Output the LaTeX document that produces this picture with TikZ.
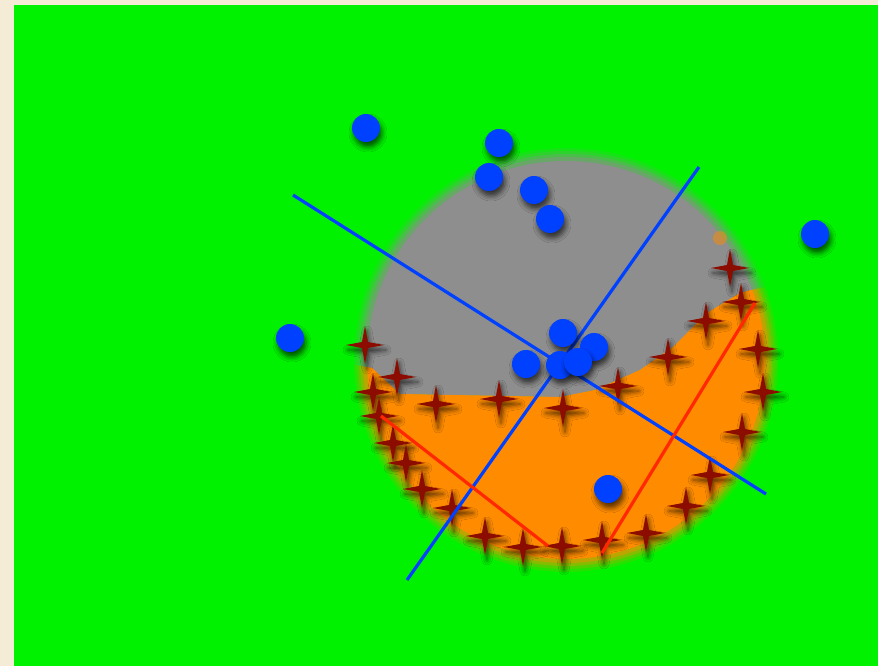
\documentclass[tikz,border=0pt]{standalone}
\usetikzlibrary{shadows.blur}
\definecolor{bg}{RGB}{245,236,215}
\definecolor{grn}{RGB}{0,242,0}
\definecolor{gry}{RGB}{142,142,142}
\definecolor{org}{RGB}{255,140,0}
\definecolor{blu}{RGB}{0,64,255}
\definecolor{redl}{RGB}{255,40,0}
\definecolor{strc}{RGB}{140,12,0}
\tikzset{
  softshadow/.style={blur shadow={shadow xshift=2pt, shadow yshift=-5pt, shadow blur radius=5pt, shadow opacity=65}},
  dot/.style={circle, fill=blu, minimum size=28pt, inner sep=0pt, softshadow},
  starfour/.pic={\fill[strc, softshadow] (0,-19) -- (3,-3) -- (19,0) -- (3,3) -- (0,19) -- (-3,3) -- (-19,0) -- (-3,-3) -- cycle;},
  blueline/.style={blu, line width=3.2pt},
  redline/.style={redl, line width=3.2pt},
}
\newcommand{\graypoly}{(340,120) -- (340,362) -- (372,368) -- (400,394) -- (560,397) -- (595,390) -- (640,370) -- (673,347) -- (707,313) -- (740,293) -- (790,280) -- (790,120) -- cycle}
\newcommand{\orangepoly}{(340,362) -- (372,368) -- (400,394) -- (560,397) -- (595,390) -- (640,370) -- (673,347) -- (707,313) -- (740,293) -- (790,280) -- (790,600) -- (340,600) -- cycle}
\begin{document}
\begin{tikzpicture}[x=1pt,y=-1pt]
\useasboundingbox (0,0) rectangle (878,666);
\fill[bg] (0,0) rectangle (878,666);
\fill[grn] (14,5) rectangle (878,666);
% blurred disc
\foreach \k/\o in {212/0.15,209/0.2,206/0.3,203/0.45} {
  \begin{scope}
    \clip (566,360) circle (\k pt);
    \fill[gry, opacity=\o] \graypoly;
    \fill[org, opacity=\o] \orangepoly;
  \end{scope}
}
\begin{scope}
  \clip (566,360) circle (199pt);
  \fill[gry] \graypoly;
  \fill[org] \orangepoly;
\end{scope}
\fill[org, opacity=0.5] (720,238) circle (7pt);
% stars
\foreach \p in {(730,268),(741,302),(706,321),(758,349),(668,357),(618,386),(763,392),(563,408),(499,399),(436,404),(397,377),(365,345),(373,392),(379,416),(393,443),(406,463),(422,489),(452,508),(485,536),(523,547),(562,546),(602,540),(646,533),(686,506),(710,475),(742,432)}
  \pic at \p {starfour};
% lines
\coordinate (b1a) at (293,195);
\coordinate (b1b) at (766,494);
\coordinate (b2a) at (407,580);
\coordinate (b2b) at (699,167);
\coordinate (r1a) at (381,416);
\coordinate (r1b) at (548,546);
\coordinate (r2a) at (602,553);
\coordinate (r2b) at (755,303);
\draw[blueline] (b1a) -- (b1b);
\draw[blueline] (b2a) -- (b2b);
\draw[redline] (r1a) -- (r1b);
\draw[redline] (r2a) -- (r2b);
% dots
\node[dot] (d1) at (366,128) {};
\node[dot] (d2) at (499,143) {};
\node[dot] (d3) at (489,177) {};
\node[dot] (d4) at (534,190) {};
\node[dot] (d5) at (550,219) {};
\node[dot] (d6) at (815,234) {};
\node[dot] (d7) at (290,338) {};
\node[dot] (d8) at (563,333) {};
\node[dot] (d9) at (594,347) {};
\node[dot] (d10) at (526,364) {};
\node[dot] (d11) at (560,365) {};
\node[dot] (d12) at (578,362) {};
\node[dot] (d13) at (608,489) {};
\end{tikzpicture}
\end{document}
